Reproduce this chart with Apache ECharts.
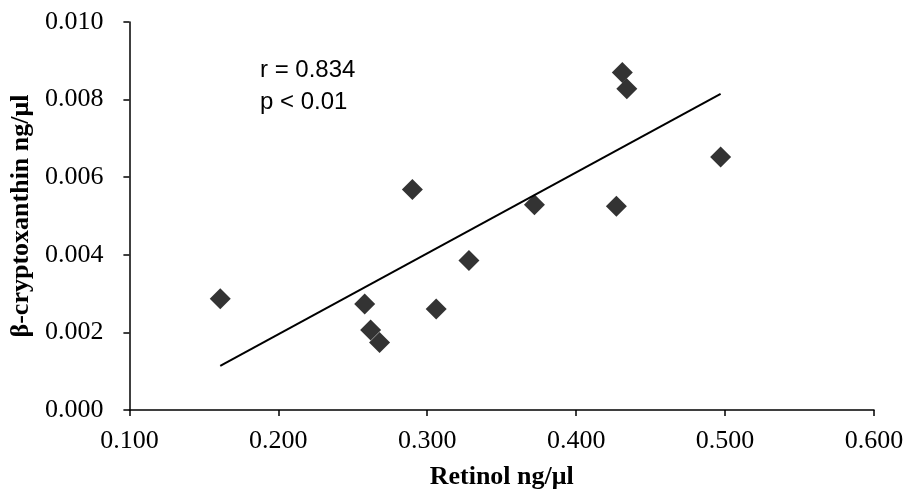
<!DOCTYPE html>
<html>
<head>
<meta charset="utf-8">
<title>Retinol vs β-cryptoxanthin</title>
<script src="https://cdn.jsdelivr.net/npm/echarts@6/dist/echarts.min.js"></script>
<style>
  html, body { margin: 0; padding: 0; background: #fff; }
  #chart { width: 908px; height: 499px; }
</style>
</head>
<body>
<div id="chart"></div>
<script>
// Retinol (x) and β-cryptoxanthin (y) concentrations, ng/μl
const retinol = [0.161, 0.258, 0.262, 0.268, 0.306, 0.290, 0.328, 0.372, 0.427, 0.431, 0.434, 0.497];
const cryptoxanthin = [0.00287, 0.00273, 0.00206, 0.00174, 0.00260, 0.00568, 0.00385, 0.00529, 0.00525, 0.00870, 0.00828, 0.00652];

// Linear trend line end points
const trendX = [0.161, 0.497];
const trendY = [0.00114, 0.00815];

// Axis tick labels
const xTicks = ['0.100', '0.200', '0.300', '0.400', '0.500', '0.600'];
const yTicks = ['0.000', '0.002', '0.004', '0.006', '0.008', '0.010'];

const statsText = ['r = 0.834', 'p < 0.01'];

const points = retinol.map((x, i) => [x, cryptoxanthin[i]]);
const trend = trendX.map((x, i) => [x, trendY[i]]);

const serif = '"Liberation Serif", "Times New Roman", serif';
const chart = echarts.init(document.getElementById('chart'), null, { renderer: 'canvas' });

chart.setOption({
  animation: false,
  backgroundColor: '#ffffff',
  grid: { left: 129, right: 34, top: 22, bottom: 89, containLabel: false },
  xAxis: {
    type: 'value',
    min: 0.1, max: 0.6, interval: 0.1,
    name: 'Retinol ng/μl',
    nameLocation: 'middle',
    nameGap: 54,
    nameTextStyle: { fontFamily: serif, fontWeight: 'bold', fontSize: 26, color: '#000' },
    axisLine: { show: true, onZero: false, lineStyle: { color: '#000', width: 1.5 } },
    axisTick: { show: true, inside: false, length: 6, lineStyle: { color: '#000', width: 1.5 } },
    axisLabel: {
      margin: 18, fontFamily: serif, fontSize: 26, color: '#000',
      formatter: v => xTicks[Math.round((v - 0.1) / 0.1)]
    },
    splitLine: { show: false }
  },
  yAxis: {
    type: 'value',
    min: 0, max: 0.01, interval: 0.002,
    name: 'β-cryptoxanthin ng/μl',
    nameLocation: 'middle',
    nameGap: 86,
    nameRotate: 90,
    nameTextStyle: { fontFamily: serif, fontWeight: 'bold', fontSize: 26, color: '#000' },
    axisLine: { show: true, onZero: false, lineStyle: { color: '#000', width: 1.5 } },
    axisTick: { show: true, inside: false, length: 6, lineStyle: { color: '#000', width: 1.5 } },
    axisLabel: {
      margin: 26, fontFamily: serif, fontSize: 26, color: '#000',
      formatter: v => yTicks[Math.round(v / 0.002)]
    },
    splitLine: { show: false }
  },
  series: [
    {
      type: 'line',
      data: trend,
      symbol: 'none',
      lineStyle: { color: '#000', width: 2 },
      silent: true,
      z: 2
    },
    {
      type: 'scatter',
      data: points,
      symbol: 'diamond',
      symbolSize: 21,
      itemStyle: { color: '#000' },
      z: 3
    }
  ],
  graphic: [
    {
      type: 'text',
      left: 260, top: 54,
      style: {
        text: statsText.join('\n'),
        font: '24px "Liberation Sans", Arial, sans-serif',
        lineHeight: 32,
        fill: '#000'
      }
    }
  ]
});
</script>
</body>
</html>
